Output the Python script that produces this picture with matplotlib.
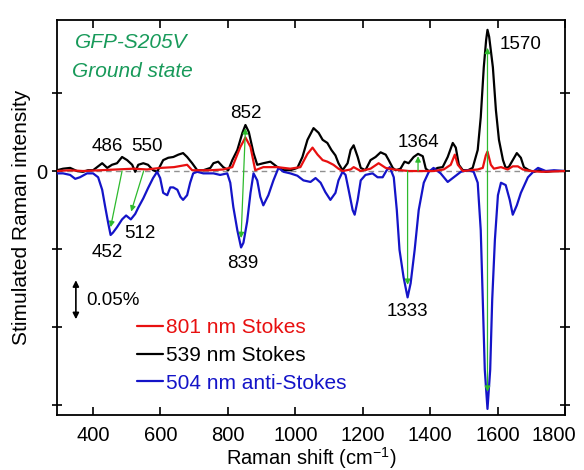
import matplotlib
matplotlib.use('Agg')
from matplotlib import pyplot as plt
from matplotlib.transforms import ScaledTranslation

plt.rcParams['font.family'] = ['Liberation Sans', 'DejaVu Sans']
plt.rcParams['mathtext.fontset'] = 'custom'
plt.rcParams['mathtext.rm'] = 'Liberation Sans'
plt.rcParams['mathtext.it'] = 'Liberation Sans:italic'

# 539 nm Stokes (black)
black_x = [293, 311, 332, 352, 370, 385, 400, 415, 427, 442, 456, 471, 486, 501, 516, 525, 534, 549,
           563, 578, 590, 608, 623, 638, 653, 667, 679, 694, 709, 727, 748, 757, 771, 786, 801, 813,
           828, 843, 852, 862, 876, 887, 905, 926, 947, 965, 985, 1006, 1021, 1036, 1054, 1069, 1081,
           1095, 1107, 1119, 1128, 1140, 1155, 1164, 1173, 1185, 1194, 1208, 1223, 1238, 1253, 1268,
           1277, 1289, 1298, 1312, 1324, 1336, 1351, 1364, 1378, 1387, 1396, 1408, 1422, 1437, 1452,
           1467, 1476, 1485, 1497, 1512, 1526, 1541, 1550, 1559, 1566, 1570, 1575, 1586, 1595, 1604,
           1616, 1624, 1633, 1645, 1657, 1669, 1678, 1693, 1708, 1723, 1743, 1767, 1800]
black_y = [0.001, 0.003, 0.004, 0.000, -0.001, 0.001, 0.001, 0.006, 0.010, 0.004, 0.008, 0.010, 0.018,
           0.014, 0.008, -0.001, 0.008, 0.010, 0.008, 0.001, -0.001, 0.014, 0.017, 0.018, 0.021, 0.023,
           0.018, 0.010, 0.001, 0.001, 0.004, 0.010, 0.012, 0.005, 0.001, 0.014, 0.027, 0.049, 0.059,
           0.050, 0.023, 0.008, 0.010, 0.012, 0.005, 0.001, 0.001, 0.004, 0.018, 0.040, 0.055, 0.049,
           0.040, 0.036, 0.027, 0.020, 0.010, 0.001, 0.010, 0.027, 0.033, 0.018, 0.004, 0.001, 0.014,
           0.018, 0.024, 0.021, 0.014, 0.004, 0.001, 0.003, 0.012, 0.010, 0.018, 0.022, 0.019, 0.003,
           0.000, 0.001, 0.004, 0.005, 0.018, 0.036, 0.030, 0.008, 0.001, 0.001, 0.004, 0.027, 0.069,
           0.133, 0.168, 0.181, 0.172, 0.133, 0.078, 0.040, 0.014, 0.004, 0.005, 0.014, 0.023, 0.017,
           0.005, 0.001, -0.001, 0.001, -0.001, 0.000, 0.000]

# 801 nm Stokes (red)
red_x = [293, 330, 370, 420, 470, 520, 560, 600, 640, 679, 694, 709, 748, 786, 813, 837, 852, 867, 881,
         905, 947, 985, 1015, 1036, 1051, 1066, 1081, 1095, 1113, 1128, 1140, 1164, 1173, 1194, 1223,
         1247, 1268, 1292, 1336, 1372, 1411, 1440, 1461, 1473, 1482, 1497, 1541, 1556, 1565, 1570,
         1580, 1589, 1610, 1630, 1645, 1660, 1675, 1699, 1730, 1800]
red_y = [0.000, 0.001, 0.000, 0.001, 0.002, 0.003, 0.002, 0.004, 0.005, 0.008, 0.001, 0.001, 0.001,
         0.002, 0.005, 0.031, 0.043, 0.031, 0.001, 0.005, 0.005, 0.003, 0.005, 0.022, 0.030, 0.021,
         0.014, 0.012, 0.008, 0.003, 0.000, 0.002, 0.005, 0.000, 0.003, 0.010, 0.004, 0.002, 0.000,
         0.000, 0.000, 0.002, 0.008, 0.021, 0.008, 0.000, 0.002, 0.004, 0.020, 0.025, 0.008, 0.003,
         0.005, 0.002, 0.006, 0.006, 0.002, 0.000, -0.001, 0.000]

# 504 nm anti-Stokes (blue)
blue_x = [293, 311, 332, 347, 361, 382, 400, 415, 427, 436, 445, 452, 459, 471, 486, 498, 512, 525,
          534, 549, 563, 578, 590, 599, 608, 620, 629, 638, 650, 659, 667, 679, 688, 697, 709, 727,
          757, 777, 798, 807, 816, 828, 839, 846, 857, 867, 876, 887, 896, 905, 920, 935, 950, 965,
          985, 1006, 1024, 1045, 1060, 1075, 1089, 1104, 1119, 1128, 1140, 1149, 1158, 1170, 1176,
          1185, 1194, 1208, 1229, 1244, 1259, 1271, 1280, 1292, 1301, 1309, 1321, 1333, 1342, 1354,
          1366, 1381, 1396, 1410, 1431, 1452, 1470, 1491, 1512, 1529, 1541, 1550, 1556, 1562, 1570,
          1578, 1584, 1592, 1601, 1610, 1624, 1636, 1645, 1657, 1669, 1690, 1708, 1720, 1743, 1767,
          1800]
blue_y = [-0.003, -0.003, -0.005, -0.010, -0.008, -0.003, -0.003, -0.008, -0.024, -0.046, -0.067,
          -0.082, -0.079, -0.072, -0.062, -0.057, -0.062, -0.055, -0.047, -0.035, -0.022, -0.009,
          -0.001, -0.009, -0.028, -0.031, -0.021, -0.021, -0.024, -0.033, -0.037, -0.031, -0.015,
          -0.003, -0.001, -0.003, -0.003, -0.005, -0.003, -0.015, -0.046, -0.076, -0.098, -0.092,
          -0.065, -0.028, -0.003, -0.012, -0.033, -0.044, -0.031, -0.012, 0.004, -0.001, -0.003,
          -0.006, -0.012, -0.014, -0.009, -0.015, -0.027, -0.037, -0.028, -0.012, -0.001, -0.005,
          -0.024, -0.050, -0.056, -0.037, -0.012, -0.005, -0.003, -0.008, -0.008, 0.001, 0.005,
          -0.008, -0.050, -0.101, -0.136, -0.162, -0.144, -0.101, -0.050, -0.015, -0.001, 0.004,
          -0.003, -0.014, -0.008, -0.001, 0.001, -0.001, -0.015, -0.076, -0.165, -0.255, -0.305,
          -0.255, -0.165, -0.088, -0.031, -0.015, -0.018, -0.037, -0.056, -0.044, -0.028, -0.008,
          0.000, 0.004, 0.000, 0.001, 0.000]

# green arrows: start and end of each (x, y), and head style
arrow_from = [(486, 0.0), (550, 0.0), (852, 0.055), (1333, 0.0), (1364, 0.0), (1570, 0.158)]
arrow_to = [(452, -0.072), (513, -0.052), (839, -0.086), (1333, -0.146), (1364, 0.019), (1570, -0.283)]
arrow_style = ['-|>', '-|>', '<|-|>', '-|>', '-|>', '<|-|>']

# peak labels
peak_labels = ['486', '550', '852', '1364', '1570', '452', '512', '839', '1333']
peak_label_x = [442, 560, 852, 1366, 1607, 442, 540, 843, 1333]
peak_label_y = [0.031, 0.031, 0.074, 0.037, 0.162, -0.105, -0.080, -0.118, -0.180]
peak_label_ha = ['center'] * 4 + ['left'] + ['center'] * 4

fig = plt.figure(figsize=(5.84, 4.70), dpi=100)
ax = fig.add_axes([0.0976, 0.117, 0.8699, 0.8404])

ax.axhline(0, color='#909090', ls='--', lw=1.0, dashes=(4, 3), zorder=1)
line_kw = dict(lw=1.6, solid_joinstyle='round', solid_capstyle='round')
ax.plot(black_x, black_y, color='black', label='539 nm Stokes', zorder=3, **line_kw)
ax.plot(red_x, red_y, color='#e81010', label='801 nm Stokes', zorder=4, **line_kw)
ax.plot(blue_x, blue_y, color='#1414c8', label='504 nm anti-Stokes', zorder=3, **line_kw)

for start, end, style in zip(arrow_from, arrow_to, arrow_style):
    ax.annotate('', xy=end, xytext=start,
                arrowprops=dict(arrowstyle=style, color='#2dba2d', lw=0.9,
                                mutation_scale=8, shrinkA=0, shrinkB=0), zorder=5)

for txt, x, y, ha in zip(peak_labels, peak_label_x, peak_label_y, peak_label_ha):
    ax.text(x, y, txt, ha=ha, va='center', fontsize=13.5)

ax.text(346, 0.165, 'GFP-S205V', color='#189a5a', style='italic', fontsize=15, va='center')
ax.text(338, 0.128, 'Ground state', color='#189a5a', style='italic', fontsize=15, va='center')

# 0.05% scale bar
ax.annotate('', xy=(349, -0.140), xytext=(349, -0.190),
            arrowprops=dict(arrowstyle='<|-|>', color='black', lw=1.2,
                            mutation_scale=9, shrinkA=0, shrinkB=0))
ax.text(379, -0.166, '0.05%', fontsize=13.5, va='center')

handles, labels = ax.get_legend_handles_labels()
order = [1, 0, 2]
leg = ax.legend([handles[i] for i in order], [labels[i] for i in order],
                loc='upper left', bbox_to_anchor=(0.157, 0.245), frameon=False,
                fontsize=15, handlelength=1.25, handletextpad=0.15, labelspacing=0.42,
                borderpad=0, borderaxespad=0, labelcolor='linecolor')

ax.set_xlim(293, 1800)
ax.set_ylim(-0.3128, 0.1936)
ax.set_xticks([400, 600, 800, 1000, 1200, 1400, 1600, 1800])
ax.set_yticks([-0.3, -0.2, -0.1, 0, 0.1])
ax.set_yticklabels(['', '', '', '0', ''])
ax.tick_params(axis='x', direction='in', top=True, length=6, width=1.2, labelsize=14.5, pad=8)
ax.tick_params(axis='y', direction='inout', right=True, length=7, width=1.2, labelsize=14.5)
for s in ax.spines.values():
    s.set_linewidth(1.3)

# last x label sits a bit left of its tick so it stays inside the figure
last = ax.get_xticklabels()[-1]
last.set_transform(last.get_transform() + ScaledTranslation(-8 / 72, 0, fig.dpi_scale_trans))

ax.set_xlabel('Raman shift (cm$^{-1}$)', fontsize=14.5, labelpad=0)
ax.set_ylabel('Stimulated Raman intensity', fontsize=15, labelpad=4)

fig.savefig('out.png', dpi=100)
